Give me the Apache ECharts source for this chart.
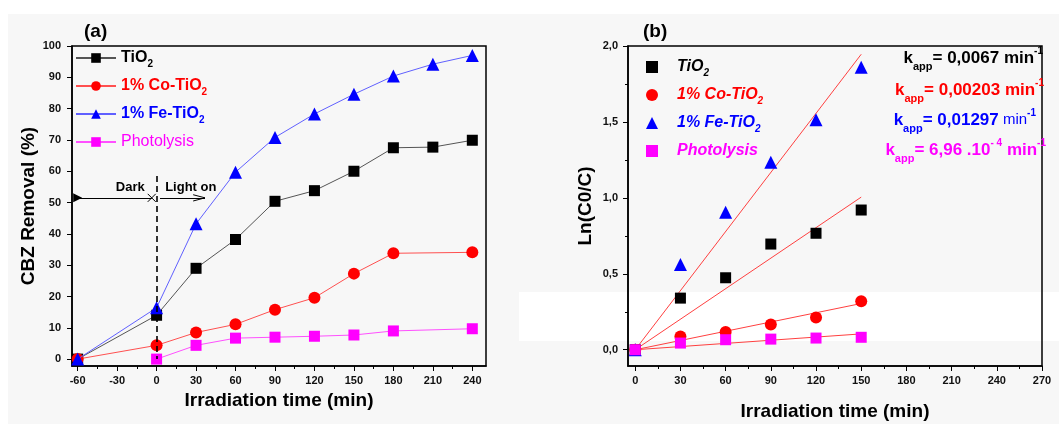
<!DOCTYPE html>
<html>
<head>
<meta charset="utf-8">
<script src="https://cdn.jsdelivr.net/npm/echarts@6/dist/echarts.min.js"></script>
<style>
html,body{margin:0;padding:0;background:#fff;}
#c{width:1059px;height:424px;}
</style>
</head>
<body>
<div id="c"></div>
<script>
// ---------- DATA ----------
const timesA = [-60, 0, 30, 60, 90, 120, 150, 180, 210, 240];
const tio2A  = [0, 14.0, 29.0, 38.2, 50.4, 53.8, 60.0, 67.5, 67.7, 69.9];
const coA    = [0, 4.4, 8.5, 11.1, 15.8, 19.6, 27.3, 33.8, null, 34.1];
const feA    = [0, 16.4, 43.2, 59.7, 70.8, 78.3, 84.6, 90.4, 94.2, 97.0];
const photoA = [null, 0, 4.4, 6.7, 7.0, 7.3, 7.7, 9.0, null, 9.7];

const timesB = [0, 30, 60, 90, 120, 150];
const tio2B  = [0, 0.34, 0.474, 0.696, 0.767, 0.92];
const coB    = [0, 0.088, 0.117, 0.167, 0.213, 0.319];
const feB    = [0, 0.562, 0.905, 1.234, 1.515, 1.86];
const photoB = [0, 0.044, 0.066, 0.070, 0.077, 0.082];

const fitX     = [0, 150];
const fitTio2  = [0, 1.005];
const fitCo    = [0, 0.3045];
const fitFe    = [0, 1.9455];
const fitPhoto = [0, 0.1044];

const ticksA  = [-60, -30, 0, 30, 60, 90, 120, 150, 180, 210, 240];
const minorA  = [-45, -15, 15, 45, 75, 105, 135, 165, 195, 225];
const yTicksA = [0, 10, 20, 30, 40, 50, 60, 70, 80, 90, 100];
const ticksB  = [0, 30, 60, 90, 120, 150, 180, 210, 240, 270];
const minorB  = [15, 45, 75, 105, 135, 165, 195, 225, 255];
const yTicksB = [0, 0.5, 1.0, 1.5, 2.0];
const yMinorB = [0.25, 0.75, 1.25, 1.75];

// annotation in panel (a)
const arrowY = 51.5;
const darkLabel = {text: 'Dark', x: -20, y: 54.8};
const lightLabel = {text: 'Light on', x: 26, y: 54.8};

const kTexts = [
  {label: '0,0067', color: '#000000'},
  {label: '0,00203', color: '#ff0000'},
  {label: '0,01297', color: '#0000ff'},
  {label: '6,96 .10', color: '#ff00ff'}
];

// ---------- helpers ----------
const FONT = '"Liberation Sans", Arial, sans-serif';
function pairs(xs, ys) {
  const out = [];
  xs.forEach((x, i) => { if (ys[i] !== null && ys[i] !== undefined) out.push([x, ys[i]]); });
  return out;
}
const colors = {tio2: '#000000', co: '#ff0000', fe: '#0000ff', photo: '#ff00ff'};

function richLegend(italic, padLeft) {
  const st = italic ? 'italic' : 'normal';
  const base = (c, w) => ({fontSize: 16, fontWeight: w, fontStyle: st, color: c, fontFamily: FONT, lineHeight: 24, padding: [0, 0, 0, padLeft]});
  const sub = (c) => ({fontSize: 10, fontWeight: 'bold', fontStyle: st, color: c, fontFamily: FONT, verticalAlign: 'bottom', padding: [0, 0, 1, 0]});
  return {
    k: base('#000', 'bold'), ks: sub('#000'),
    r: base('#ff0000', 'bold'), rs: sub('#ff0000'),
    b: base('#0000ff', 'bold'), bs: sub('#0000ff'),
    m: base('#ff00ff', italic ? 'bold' : 'normal'), ms: sub('#ff00ff')
  };
}
function legendFormatter(name) {
  if (name.endsWith('TiO2')) return '{k|TiO}{ks|2}';
  if (name.endsWith('Co')) return '{r|1% Co-TiO}{rs|2}';
  if (name.endsWith('Fe')) return '{b|1% Fe-TiO}{bs|2}';
  return '{m|Photolysis}';
}

const axisLabelStyle = {fontSize: 11, fontWeight: 'bold', color: '#111', fontFamily: FONT};
const axisNameStyle = {fontSize: 19, fontWeight: 'bold', color: '#000', fontFamily: FONT};

function xAxisMain(grid, min, max, ticks, name, gap) {
  return {
    type: 'value', gridIndex: grid, min: min, max: max,
    name: name, nameLocation: 'middle', nameGap: gap, nameTextStyle: axisNameStyle,
    axisLine: {show: true, onZero: false, lineStyle: {color: '#000', width: 1.5}},
    axisTick: {show: true, inside: false, length: 5, customValues: ticks, lineStyle: {color: '#000', width: 1}},
    axisLabel: Object.assign({show: true, margin: 9, customValues: ticks, formatter: v => String(v)}, axisLabelStyle),
    splitLine: {show: false}
  };
}
function minorAxis(kind, grid, min, max, vals) {
  const ax = {
    type: 'value', gridIndex: grid, min: min, max: max,
    axisLine: {show: false, onZero: false},
    axisTick: {show: true, inside: false, length: 3, customValues: vals, lineStyle: {color: '#000', width: 1}},
    axisLabel: {show: false},
    splitLine: {show: false}
  };
  if (kind === 'x') ax.position = 'bottom'; else ax.position = 'left';
  return ax;
}

const option = {
  animation: false,
  backgroundColor: '#ffffff',
  graphic: [
    {type: 'rect', z: -10, silent: true, shape: {x: 8, y: 14, width: 1051, height: 410}, style: {fill: '#f7f7f7'}},
    {type: 'rect', z: -9, silent: true, shape: {x: 519, y: 292, width: 540, height: 49}, style: {fill: '#ffffff'}},
    {type: 'text', left: 84, top: 22, style: {text: '(a)', font: 'bold 19px ' + FONT, fill: '#000'}},
    {type: 'text', left: 643, top: 22, style: {text: '(b)', font: 'bold 19px ' + FONT, fill: '#000'}}
  ].concat(kTexts.map((k, i) => {
    const c = k.color;
    const blueMin = (i === 2);
    const t = i === 3
      ? '{k|k}{s|app}{k|= ' + k.label + '}{p|- 4}{k| min}{p|-1}'
      : '{k|k}{s|app}{k|= ' + k.label + '}' + (blueMin ? '{mn| min}' : '{k| min}') + '{p|-1}';
    const rightX = [1043, 1044, 1036, 1046][i];
    const cy = [58, 90, 120, 150][i];
    return {
      type: 'text', z: 10, x: rightX, y: cy,
      style: {
        text: t, align: 'right', verticalAlign: 'middle',
        rich: {
          k: {fontSize: 17, fontWeight: 'bold', fill: c, fontFamily: FONT, lineHeight: 28},
          mn: {fontSize: 15, fontWeight: 'normal', fill: c, fontFamily: FONT, lineHeight: 28},
          s: {fontSize: 11, fontWeight: 'bold', fill: c, fontFamily: FONT, verticalAlign: 'bottom'},
          p: {fontSize: 10, fontWeight: 'bold', fill: c, fontFamily: FONT, verticalAlign: 'top', padding: [2, 0, 0, 0]}
        }
      }
    };
  })),
  grid: [
    {left: 72, right: 573, top: 46, bottom: 58, outerBoundsMode: 'none', containLabel: false, show: true, borderColor: '#000', borderWidth: 1.5, backgroundColor: 'transparent'},
    {left: 628, right: 17, top: 46, bottom: 58, outerBoundsMode: 'none', containLabel: false, show: true, borderColor: '#000', borderWidth: 1.5, backgroundColor: 'transparent'}
  ],
  legend: [
    {
      orient: 'vertical', left: 75, top: 50, padding: 0, itemGap: 9,
      itemWidth: 40, itemHeight: 12, selectedMode: false,
      data: ['a-TiO2', 'a-Co', 'a-Fe', 'a-Photo'],
      formatter: legendFormatter,
      textStyle: {rich: richLegend(false, 0)}
    },
    {
      orient: 'vertical', left: 646, top: 59, padding: 0, itemGap: 9,
      itemWidth: 12, itemHeight: 12, selectedMode: false,
      data: ['b-TiO2', 'b-Co', 'b-Fe', 'b-Photo'],
      formatter: legendFormatter,
      textStyle: {rich: richLegend(true, 14)}
    }
  ],
  xAxis: [
    xAxisMain(0, -64.3, 250.4, ticksA, 'Irradiation time (min)', 25),
    xAxisMain(1, -4.8, 270, ticksB, 'Irradiation time (min)', 36),
    minorAxis('x', 0, -64.3, 250.4, minorA),
    minorAxis('x', 1, -4.8, 270, minorB)
  ],
  yAxis: [
    {
      type: 'value', gridIndex: 0, min: -2.2, max: 100,
      name: 'CBZ Removal (%)', nameLocation: 'middle', nameGap: 34, nameTextStyle: axisNameStyle,
      axisLine: {show: true, onZero: false, lineStyle: {color: '#000', width: 1.5}},
      axisTick: {show: true, inside: false, length: 5, customValues: yTicksA, lineStyle: {color: '#000', width: 1}},
      axisLabel: Object.assign({show: true, margin: 11, customValues: yTicksA}, axisLabelStyle),
      splitLine: {show: false}
    },
    {
      type: 'value', gridIndex: 1, min: -0.107, max: 2.0,
      name: 'Ln(C0/C)', nameLocation: 'middle', nameGap: 33, nameTextStyle: axisNameStyle,
      axisLine: {show: true, onZero: false, lineStyle: {color: '#000', width: 1.5}},
      axisTick: {show: true, inside: false, length: 5, customValues: yTicksB, lineStyle: {color: '#000', width: 1}},
      axisLabel: Object.assign({show: true, margin: 10, customValues: yTicksB, formatter: v => v.toFixed(1).replace('.', ',')}, axisLabelStyle),
      splitLine: {show: false}
    },
    minorAxis('y', 1, -0.107, 2.0, yMinorB)
  ],
  series: [
    // ---- panel (a) ----
    {name: 'a-TiO2', type: 'line', xAxisIndex: 0, yAxisIndex: 0, data: pairs(timesA, tio2A),
     symbol: 'rect', symbolSize: 11, itemStyle: {color: colors.tio2}, lineStyle: {color: '#555', width: 1}, z: 3},
    {name: 'a-Co', type: 'line', xAxisIndex: 0, yAxisIndex: 0, data: pairs(timesA, coA),
     symbol: 'circle', symbolSize: 12, itemStyle: {color: colors.co}, lineStyle: {color: '#ff5050', width: 1}, z: 3},
    {name: 'a-Fe', type: 'line', xAxisIndex: 0, yAxisIndex: 0, data: pairs(timesA, feA),
     symbol: 'triangle', symbolSize: 13, itemStyle: {color: colors.fe}, lineStyle: {color: '#6060ff', width: 1}, z: 4},
    {name: 'a-Photo', type: 'line', xAxisIndex: 0, yAxisIndex: 0, data: pairs(timesA, photoA),
     symbol: 'rect', symbolSize: 11, itemStyle: {color: colors.photo}, lineStyle: {color: '#ff50ff', width: 1}, z: 3},
    {
      name: 'annot', type: 'line', xAxisIndex: 0, yAxisIndex: 0, data: [], silent: true,
      markLine: {
        silent: true, symbol: 'none', animation: false,
        label: {show: false},
        lineStyle: {color: '#000', width: 1, type: 'solid'},
        data: [
          [{coord: [-60, arrowY]}, {coord: [-3.7, arrowY]}],
          [{coord: [2.6, arrowY]}, {coord: [36.8, arrowY]}],
          [{coord: [27.8, arrowY + 1.0]}, {coord: [36.8, arrowY]}],
          [{coord: [27.8, arrowY - 1.0]}, {coord: [36.8, arrowY]}],
          [{coord: [0, 58.5], lineStyle: {type: [6, 4], width: 1.6}}, {coord: [0, 0]}]
        ]
      },
      markPoint: {
        silent: true, animation: false,
        data: [
          {coord: [-60, arrowY], symbol: 'triangle', symbolSize: [9, 9], symbolRotate: -90, itemStyle: {color: '#000'}, label: {show: false}},
          {coord: [-3.7, arrowY], symbol: 'path://M0,0L10,10M10,0L0,10', symbolSize: 8,
           itemStyle: {color: 'none', borderColor: '#000', borderWidth: 1}, label: {show: false}},
          {coord: [darkLabel.x, darkLabel.y], symbol: 'rect', symbolSize: 1, itemStyle: {color: 'transparent'},
           label: {show: true, position: 'inside', formatter: darkLabel.text, fontSize: 13, fontWeight: 'bold', color: '#000', fontFamily: FONT}},
          {coord: [lightLabel.x, lightLabel.y], symbol: 'rect', symbolSize: 1, itemStyle: {color: 'transparent'},
           label: {show: true, position: 'inside', formatter: lightLabel.text, fontSize: 13, fontWeight: 'bold', color: '#000', fontFamily: FONT}}
        ]
      }
    },
    // ---- panel (b): fit lines ----
    {name: 'fit-TiO2', type: 'line', xAxisIndex: 1, yAxisIndex: 1, data: pairs(fitX, fitTio2), symbol: 'none', lineStyle: {color: '#ff4040', width: 1}, z: 2},
    {name: 'fit-Co', type: 'line', xAxisIndex: 1, yAxisIndex: 1, data: pairs(fitX, fitCo), symbol: 'none', lineStyle: {color: '#ff4040', width: 1}, z: 2},
    {name: 'fit-Fe', type: 'line', xAxisIndex: 1, yAxisIndex: 1, data: pairs(fitX, fitFe), symbol: 'none', lineStyle: {color: '#ff4040', width: 1}, z: 2},
    {name: 'fit-Photo', type: 'line', xAxisIndex: 1, yAxisIndex: 1, data: pairs(fitX, fitPhoto), symbol: 'none', lineStyle: {color: '#ff4040', width: 1}, z: 2},
    // ---- panel (b): points ----
    {name: 'b-TiO2', type: 'scatter', xAxisIndex: 1, yAxisIndex: 1, data: pairs(timesB, tio2B), symbol: 'rect', symbolSize: 11, itemStyle: {color: colors.tio2, opacity: 1}, z: 4},
    {name: 'b-Co', type: 'scatter', xAxisIndex: 1, yAxisIndex: 1, data: pairs(timesB, coB), symbol: 'circle', symbolSize: 12, itemStyle: {color: colors.co, opacity: 1}, z: 4},
    {name: 'b-Fe', type: 'scatter', xAxisIndex: 1, yAxisIndex: 1, data: pairs(timesB, feB), symbol: 'triangle', symbolSize: 13, itemStyle: {color: colors.fe, opacity: 1}, z: 4},
    {name: 'b-Photo', type: 'scatter', xAxisIndex: 1, yAxisIndex: 1, data: pairs(timesB, photoB), symbol: 'rect', symbolSize: 11, itemStyle: {color: colors.photo, opacity: 1}, z: 5}
  ]
};

const chart = echarts.init(document.getElementById('c'), null, {renderer: 'canvas'});
chart.setOption(option);
</script>
</body>
</html>
